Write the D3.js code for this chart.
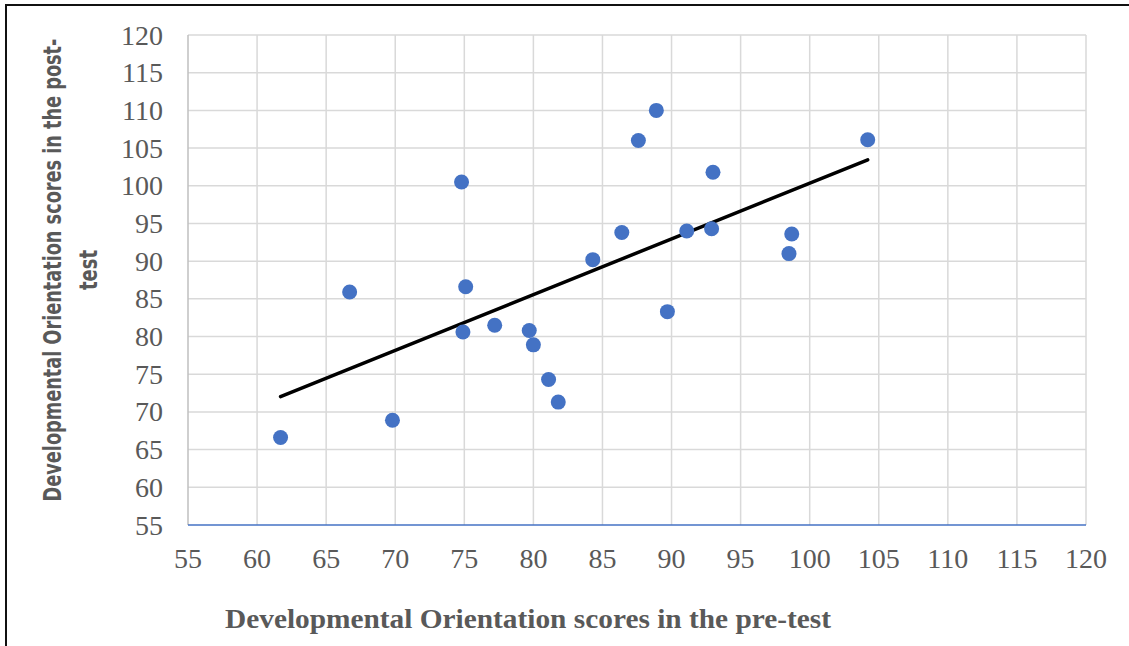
<!DOCTYPE html>
<html>
<head>
<meta charset="utf-8">
<script src="https://cdn.jsdelivr.net/npm/d3@7"></script>
<style>
  html, body { margin: 0; padding: 0; background: #fff; }
  svg { display: block; }
</style>
</head>
<body>
<script>
const width = 1129;
const height = 646;

// scores (pre-test on x, post-test on y)
const preTest  = [61.7, 66.7, 69.8, 74.8, 75.1, 74.9, 77.2, 79.7, 80.0, 81.1, 81.8,
                  84.3, 86.4, 87.6, 88.9, 89.7, 91.1, 92.9, 93.0, 98.5, 98.7, 104.2];
const postTest = [66.6, 85.9, 68.9, 100.5, 86.6, 80.6, 81.5, 80.8, 78.9, 74.3, 71.3,
                  90.2, 93.8, 106.0, 110.0, 83.3, 94.0, 94.3, 101.8, 91.0, 93.6, 106.1];
const xTicks = d3.range(55, 121, 5);
const yTicks = d3.range(55, 121, 5);
const X_TITLE = "Developmental Orientation scores in the pre-test";
const Y_TITLE = ["Developmental Orientation scores in the post-", "test"];

const GRID = "#d9d9d9";
const TEXT = "#595959";
const DOT = "#4472c4";

const svg = d3.select("body").append("svg")
    .attr("width", width)
    .attr("height", height);

// outer frame
svg.append("rect")
    .attr("x", 6).attr("y", 5)
    .attr("width", width + 10).attr("height", height + 10)
    .attr("fill", "none")
    .attr("stroke", "#111")
    .attr("stroke-width", 2);

const x = d3.scaleLinear().domain([55, 120]).range([188, 1086]);
const y = d3.scaleLinear().domain([55, 120]).range([525, 35]);

// gridlines
svg.append("g").selectAll("line")
    .data(xTicks.slice(1))
    .join("line")
    .attr("x1", d => x(d)).attr("x2", d => x(d))
    .attr("y1", y(120)).attr("y2", y(55))
    .attr("stroke", GRID).attr("stroke-width", 1.5);

svg.append("g").selectAll("line")
    .data(yTicks.slice(1))
    .join("line")
    .attr("x1", x(55)).attr("x2", x(120))
    .attr("y1", d => y(d)).attr("y2", d => y(d))
    .attr("stroke", GRID).attr("stroke-width", 1.5);

// left axis line
svg.append("line")
    .attr("x1", x(55)).attr("x2", x(55))
    .attr("y1", y(120)).attr("y2", y(55))
    .attr("stroke", "#bfbfbf").attr("stroke-width", 1.5);

// bottom axis line (blue)
svg.append("line")
    .attr("x1", x(55)).attr("x2", x(120))
    .attr("y1", y(55)).attr("y2", y(55))
    .attr("stroke", DOT).attr("stroke-width", 1.5);

// tick labels
svg.append("g").selectAll("text")
    .data(yTicks)
    .join("text")
    .attr("x", 163)
    .attr("y", d => y(d))
    .attr("dy", "0.34em")
    .attr("text-anchor", "end")
    .attr("font-family", "'Liberation Serif', 'Times New Roman', serif")
    .attr("font-size", 28)
    .attr("fill", TEXT)
    .text(d => d);

svg.append("g").selectAll("text")
    .data(xTicks)
    .join("text")
    .attr("x", d => x(d))
    .attr("y", 568)
    .attr("text-anchor", "middle")
    .attr("font-family", "'Liberation Serif', 'Times New Roman', serif")
    .attr("font-size", 28)
    .attr("fill", TEXT)
    .text(d => d);

// linear trendline (least squares)
const n = preTest.length;
const mx = d3.mean(preTest), my = d3.mean(postTest);
let sxy = 0, sxx = 0;
for (let i = 0; i < n; i++) {
    sxy += (preTest[i] - mx) * (postTest[i] - my);
    sxx += (preTest[i] - mx) ** 2;
}
const slope = sxy / sxx;
const intercept = my - slope * mx;
const [xmin, xmax] = d3.extent(preTest);

svg.append("line")
    .attr("x1", x(xmin)).attr("y1", y(intercept + slope * xmin))
    .attr("x2", x(xmax)).attr("y2", y(intercept + slope * xmax))
    .attr("stroke", "#000")
    .attr("stroke-width", 3.5)
    .attr("stroke-linecap", "round");

// points
svg.append("g").selectAll("circle")
    .data(preTest.map((v, i) => [v, postTest[i]]))
    .join("circle")
    .attr("cx", d => x(d[0]))
    .attr("cy", d => y(d[1]))
    .attr("r", 7.5)
    .attr("fill", DOT);

// axis titles
svg.append("text")
    .attr("x", 225)
    .attr("y", 628)
    .attr("font-family", "'Liberation Serif', 'Times New Roman', serif")
    .attr("font-weight", "bold")
    .attr("font-size", 28)
    .attr("fill", TEXT)
    .attr("textLength", 606)
    .attr("lengthAdjust", "spacingAndGlyphs")
    .text(X_TITLE);

// y title: condensed bold, squeezed along its length to fit like the original
function yTitleLine(txt, baseline, len) {
    const g = svg.append("g")
        .attr("transform", `translate(${baseline},270) rotate(-90)`);
    const t = g.append("text")
        .attr("text-anchor", "middle")
        .attr("font-family", "'DejaVu Sans Condensed', 'DejaVu Sans', sans-serif")
        .attr("font-weight", "bold")
        .attr("font-size", 25)
        .attr("fill", TEXT)
        .text(txt);
    const k = len / t.node().getComputedTextLength();
    t.attr("transform", `scale(${k},1)`);
}
yTitleLine(Y_TITLE[0], 61, 463);
yTitleLine(Y_TITLE[1], 97, 40);
</script>
</body>
</html>
